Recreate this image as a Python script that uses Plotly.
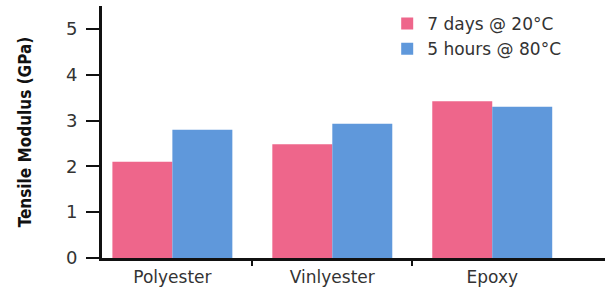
import plotly.graph_objects as go

categories = ["Polyester", "Vinlyester", "Epoxy"]
series_names = ["7 days @ 20°C", "5 hours @ 80°C"]
values_7days = [2.1, 2.48, 3.42]
values_5hours = [2.8, 2.93, 3.3]
y_ticks = [0, 1, 2, 3, 4, 5]

colors = ["#EE668B", "#5F98DB"]
xpos = list(range(len(categories)))

fig = go.Figure()
for name, vals, c in zip(series_names, [values_7days, values_5hours], colors):
    fig.add_trace(go.Bar(x=xpos, y=vals, name=name, marker=dict(color=c, line=dict(width=0))))

# invisible trace to activate boundary-tick axis
fig.add_trace(go.Scatter(x=[0.5, 1.5], y=[0, 0], xaxis="x2", mode="markers",
                         marker=dict(opacity=0), showlegend=False, hoverinfo="skip"))

xr = [-0.44, 2.705]
fig.update_layout(
    width=605, height=290,
    margin=dict(l=102, r=0, t=6, b=32),
    paper_bgcolor="white", plot_bgcolor="white",
    barmode="group", bargap=0.25, bargroupgap=0,
    font=dict(family="DejaVu Sans, sans-serif", color="#333"),
    xaxis=dict(range=xr, tickvals=xpos, ticktext=categories, ticks="", showgrid=False,
               showline=True, linecolor="#111", linewidth=3, zeroline=False,
               tickfont=dict(size=17, color="#333"), ticklabelstandoff=2),
    xaxis2=dict(range=xr, overlaying="x", side="bottom", tickvals=[0.5, 1.5], ticktext=["", ""],
                ticks="outside", ticklen=7, tickwidth=2, tickcolor="#111", showgrid=False,
                showline=False, zeroline=False, anchor="y"),
    yaxis=dict(range=[0, 5.5], tickvals=y_ticks, ticks="outside", ticklen=13, tickwidth=2,
               tickcolor="#111", showline=True, linecolor="#111", linewidth=3, showgrid=False,
               zeroline=False, tickfont=dict(size=18, color="#333"), ticklabelstandoff=5,
               title=dict(text="Tensile Modulus (GPa)", standoff=30,
                          font=dict(family="DejaVu Sans Condensed, sans-serif",
                                    size=17, color="#111", weight="bold"))),
    legend=dict(x=0.567, y=1.0, xanchor="left", yanchor="top", bgcolor="rgba(0,0,0,0)",
                font=dict(size=17, color="#333"), tracegroupgap=0, itemwidth=30,
                itemsizing="constant"),
    showlegend=True,
)
fig.write_html("out.html", config={"displayModeBar": False},
               post_script="document.body.style.margin='0';")
